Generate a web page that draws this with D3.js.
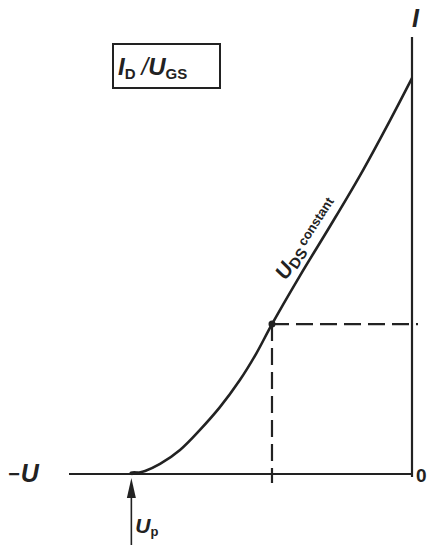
<!DOCTYPE html>
<html>
<head>
<meta charset="utf-8">
<script src="https://cdn.jsdelivr.net/npm/d3@7"></script>
<style>
  html, body { margin: 0; padding: 0; background: #ffffff; }
  svg { display: block; }
  text { font-family: "Liberation Sans", Arial, sans-serif; fill: #222; font-weight: bold; }
</style>
</head>
<body>
<div id="chart"></div>
<script>
// ---- data ----
const uValues = [-4.5, -4.28, -4.04, -3.72, -3.40, -3.08, -2.76, -2.50, -2.245, -1.80, -1.31, -0.83, -0.35, 0];
const iValues = [0, 0.07, 0.23, 0.55, 1.01, 1.53, 2.15, 2.75, 3.43, 4.53, 5.68, 6.84, 8.10, 9.06];
const opPoint = [-2.245, 3.43];
const pinchOff = -4.5;
const uDomain = [-5.5, 0];
const iDomain = [0, 10];

const W = 430, H = 545;
const ink = "#222";

const svg = d3.select("#chart").append("svg").attr("width", W).attr("height", H);

const x = d3.scaleLinear().domain(uDomain).range([69, 412]);
const y = d3.scaleLinear().domain(iDomain).range([474, 37]);

// axes
svg.append("line")
  .attr("x1", x(uDomain[0])).attr("x2", x(0)).attr("y1", y(0)).attr("y2", y(0))
  .attr("stroke", ink).attr("stroke-width", 2.2);
svg.append("line")
  .attr("x1", x(0)).attr("x2", x(0)).attr("y1", y(iDomain[1])).attr("y2", y(0) + 3)
  .attr("stroke", ink).attr("stroke-width", 2.2);

// dashed guides
svg.append("line")
  .attr("x1", x(opPoint[0])).attr("x2", x(opPoint[0]))
  .attr("y1", y(opPoint[1])).attr("y2", y(0) + 9)
  .attr("stroke", ink).attr("stroke-width", 2.2).attr("stroke-dasharray", "17,7");
svg.append("line")
  .attr("x1", x(opPoint[0])).attr("x2", x(0) + 6)
  .attr("y1", y(opPoint[1])).attr("y2", y(opPoint[1]))
  .attr("stroke", ink).attr("stroke-width", 2.2).attr("stroke-dasharray", "17,7");

// curve
const pts = uValues.map((u, i) => [u, iValues[i]]);
const line = d3.line().x(d => x(d[0])).y(d => y(d[1])).curve(d3.curveCatmullRom.alpha(0.5));
svg.append("path").datum(pts).attr("d", line)
  .attr("fill", "none").attr("stroke", ink).attr("stroke-width", 2.6);

// operating point and pinch-off start
svg.append("circle").attr("cx", x(opPoint[0])).attr("cy", y(opPoint[1])).attr("r", 3.5).attr("fill", ink);
svg.append("ellipse").attr("cx", x(pinchOff) + 3).attr("cy", y(0) - 1).attr("rx", 5).attr("ry", 2).attr("fill", ink);

// Up arrow
const ax = x(pinchOff);
svg.append("line").attr("x1", ax).attr("x2", ax).attr("y1", H).attr("y2", y(0) + 16)
  .attr("stroke", ink).attr("stroke-width", 1.6);
svg.append("path")
  .attr("d", `M${ax},${y(0) + 4} L${ax - 4.5},${y(0) + 24} L${ax + 4.5},${y(0) + 24} Z`)
  .attr("fill", ink);

// labels
const up = svg.append("text").attr("x", ax + 4).attr("y", 533).attr("font-size", 21);
up.append("tspan").attr("font-style", "italic").text("U");
up.append("tspan").attr("font-size", 13).attr("dy", 3).text("p");

const mu = svg.append("text").attr("x", 8).attr("y", 482).attr("font-size", 25).attr("font-style", "italic");
mu.append("tspan").attr("font-size", 20).attr("dy", -1).text("−");
mu.append("tspan").attr("dy", 1).attr("dx", 1).text("U");

svg.append("text").attr("x", 416).attr("y", 482).attr("font-size", 19).text("0");

svg.append("text").attr("x", 412).attr("y", 27).attr("font-size", 25).attr("font-style", "italic").text("I");

// boxed title
svg.append("rect").attr("x", 113).attr("y", 44).attr("width", 107).attr("height", 44)
  .attr("fill", "none").attr("stroke", ink).attr("stroke-width", 2);
const tt = svg.append("text").attr("x", 118).attr("y", 75).attr("font-size", 24);
tt.append("tspan").attr("font-style", "italic").text("I");
tt.append("tspan").attr("font-size", 15).attr("dy", 4).text("D");
tt.append("tspan").attr("dy", -4).attr("dx", 6).attr("font-style", "italic").attr("font-weight", "normal").text("/");
tt.append("tspan").attr("font-style", "italic").text("U");
tt.append("tspan").attr("font-size", 15).attr("dy", 4).text("GS");

// curve label
const cl = svg.append("text").attr("transform", "translate(286,281) rotate(-57)").attr("font-size", 21);
cl.append("tspan").attr("font-style", "italic").text("U");
cl.append("tspan").attr("font-size", 15).attr("dy", 3).text("DS");
cl.append("tspan").attr("font-size", 13).attr("dy", -6).attr("dx", 3).text("constant");
</script>
</body>
</html>
